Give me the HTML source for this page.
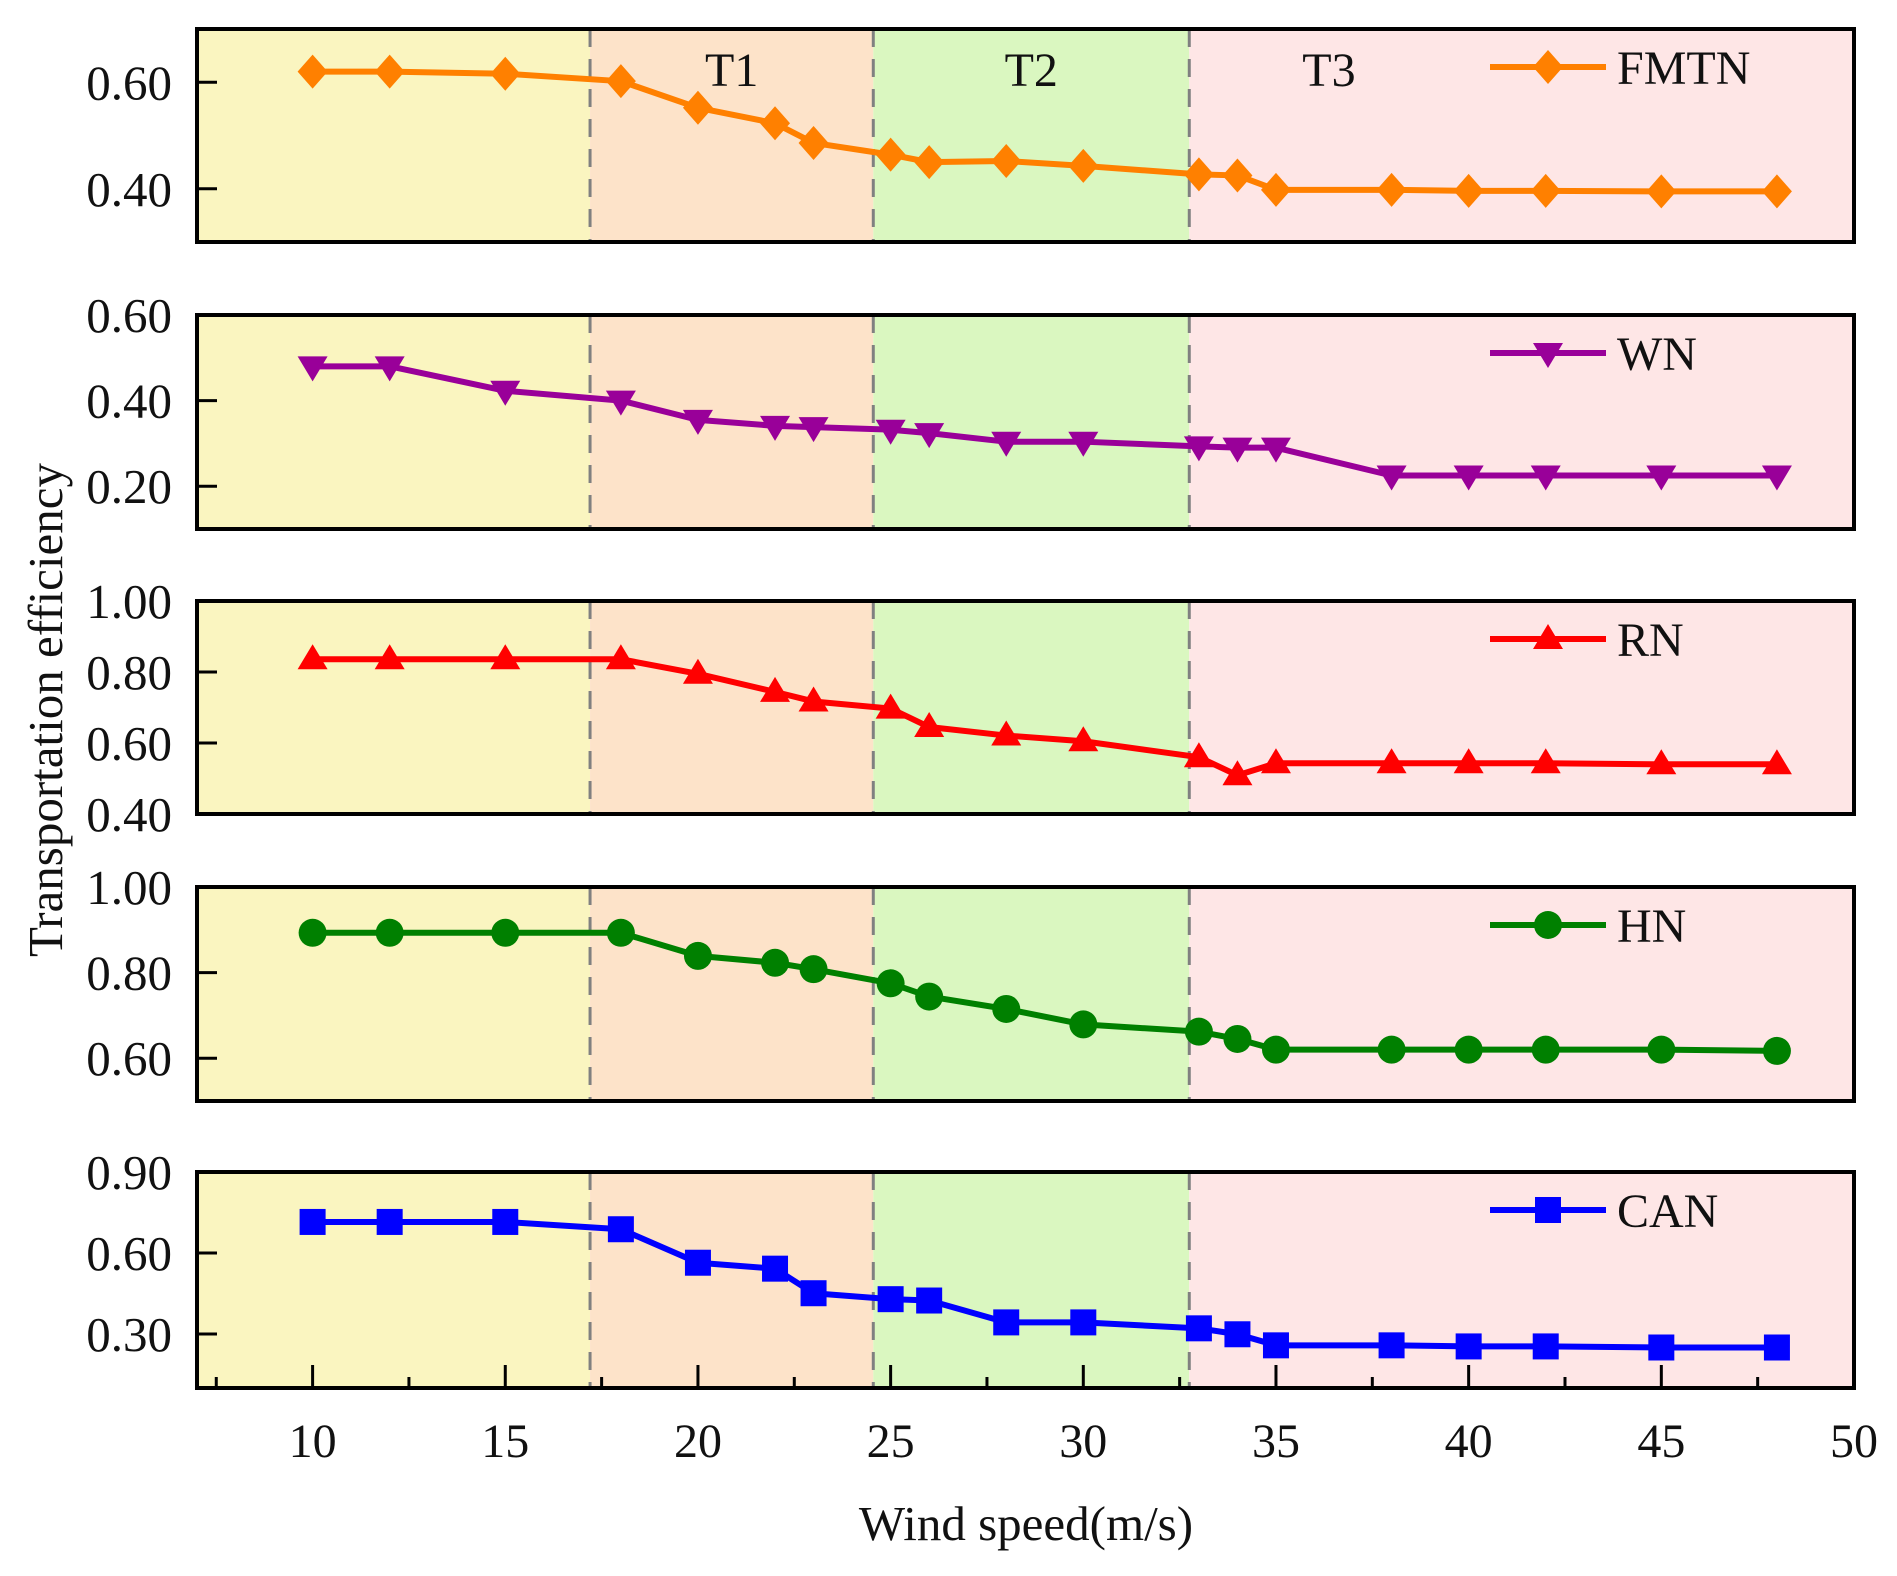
<!DOCTYPE html>
<html><head><meta charset="utf-8"><style>
body{margin:0;background:#fff}
svg text{font-family:"Liberation Serif",serif;fill:#111}
</style></head><body>
<svg id="chart" width="1897" height="1571" viewBox="0 0 1897 1571" xmlns="http://www.w3.org/2000/svg"></svg>
<script>
const windSpeeds=[10,12,15,18,20,22,23,25,26,28,30,33,34,35,38,40,42,45,48];
const fmtn=[0.62,0.62,0.616,0.602,0.552,0.523,0.486,0.464,0.45,0.452,0.443,0.427,0.425,0.398,0.398,0.396,0.396,0.395,0.395];
const wn=[0.48,0.48,0.423,0.40,0.355,0.341,0.338,0.332,0.324,0.304,0.304,0.293,0.29,0.29,0.225,0.225,0.225,0.225,0.225];
const rn=[0.836,0.836,0.836,0.836,0.795,0.744,0.717,0.697,0.645,0.621,0.605,0.56,0.509,0.543,0.543,0.543,0.543,0.54,0.54];
const hn=[0.893,0.893,0.893,0.893,0.839,0.823,0.808,0.775,0.744,0.715,0.679,0.662,0.645,0.62,0.62,0.62,0.62,0.62,0.617];
const can=[0.715,0.715,0.715,0.688,0.564,0.542,0.451,0.429,0.424,0.343,0.343,0.321,0.299,0.258,0.258,0.254,0.254,0.25,0.25];
const seriesNames=["FMTN","WN","RN","HN","CAN"];
const yTicks1=["0.40","0.60"],yTicks2=["0.20","0.40","0.60"],yTicks3=["0.40","0.60","0.80","1.00"],yTicks4=["0.60","0.80","1.00"],yTicks5=["0.30","0.60","0.90"];
const xTickLabels=[10,15,20,25,30,35,40,45,50];
const zoneBounds=[7,17.2,24.55,32.75,50];
const zoneLabels=["","T1","T2","T3"];

const svg=document.getElementById('chart');
const NS='http://www.w3.org/2000/svg';
function mk(tag,attrs,parent){const e=document.createElementNS(NS,tag);for(const k in attrs)e.setAttribute(k,attrs[k]);(parent||svg).appendChild(e);return e;}
const L=197,R=1854;
const xMin=7,xMax=50;
const X=v=>L+(v-xMin)/(xMax-xMin)*(R-L);
const panels=[
 {data:fmtn,top:29,bot:242,min:0.3,max:0.7,ticks:yTicks1,color:"#ff8000",marker:"diamond"},
 {data:wn,top:315,bot:529,min:0.1,max:0.6,ticks:yTicks2,color:"#990099",marker:"tdown"},
 {data:rn,top:601,bot:814,min:0.4,max:1.0,ticks:yTicks3,color:"#ff0000",marker:"tup"},
 {data:hn,top:887,bot:1101,min:0.5,max:1.0,ticks:yTicks4,color:"#008000",marker:"circle"},
 {data:can,top:1172,bot:1388,min:0.1,max:0.9,ticks:yTicks5,color:"#0000ff",marker:"square"}];
const zoneColors=["#faf5c0","#fde3c9","#daf7c0","#fee6e6"];
function marker(type,cx,cy,color,g){
 let e;
 if(type==="diamond")e=mk('polygon',{points:`${cx},${cy-17} ${cx+15},${cy} ${cx},${cy+17} ${cx-15},${cy}`,fill:color},g);
 else if(type==="tdown")e=mk('polygon',{points:`${cx-15},${cy-10} ${cx+15},${cy-10} ${cx},${cy+15}`,fill:color},g);
 else if(type==="tup")e=mk('polygon',{points:`${cx-15},${cy+10} ${cx+15},${cy+10} ${cx},${cy-15}`,fill:color},g);
 else if(type==="circle")e=mk('circle',{cx,cy,r:14,fill:color},g);
 else e=mk('rect',{x:cx-13,y:cy-13,width:26,height:26,fill:color},g);
 return e;
}
panels.forEach((p,pi)=>{
 const g=mk('g',{});
 
 
 const Y=v=>p.bot-(v-p.min)/(p.max-p.min)*(p.bot-p.top);
 for(let i=0;i<4;i++){
  const r=mk('rect',{x:X(zoneBounds[i]),y:p.top,width:X(zoneBounds[i+1])-X(zoneBounds[i]),height:p.bot-p.top,fill:zoneColors[i]},g);
  
  
 }
 for(let i=1;i<4;i++){
  const d=mk('line',{x1:X(zoneBounds[i]),x2:X(zoneBounds[i]),y1:p.top,y2:p.bot,stroke:"#808080","stroke-width":3,"stroke-dasharray":"18,12"},g);
  
  
 }
 p.ticks.forEach(t=>{
  const y=Y(parseFloat(t));
  mk('line',{x1:L,x2:L+20,y1:y,y2:y,stroke:"#000","stroke-width":3},g);
  const tx=mk('text',{x:172,y:y+17,"text-anchor":"end","font-size":49},g);
  tx.textContent=t;
  
  
 });
 const pts=p.data.map((v,i)=>X(windSpeeds[i])+','+Y(v)).join(' ');
 const pl=mk('polyline',{points:pts,fill:"none",stroke:p.color,"stroke-width":6,"stroke-linejoin":"round"},g);
 
 
 p.data.forEach((v,i)=>{
  const m=marker(p.marker,X(windSpeeds[i]),Y(v),p.color,g);
  
  
 });
 const ly=p.top+38;
 const lg=mk('g',{},g);
 
 
 mk('line',{x1:1490,x2:1606,y1:ly,y2:ly,stroke:p.color,"stroke-width":6},lg);
 marker(p.marker,1548,ly,p.color,lg);
 const lt=mk('text',{x:1617,y:ly+17,"font-size":48},lg);
 lt.textContent=seriesNames[pi];
 if(pi===0){
  for(let i=1;i<4;i++){
   const zt=mk('text',{x:(X(zoneBounds[i])+X(Math.min(zoneBounds[i+1],i===3?40:zoneBounds[i+1])))/2,y:86,"text-anchor":"middle","font-size":48},g);
   zt.textContent=zoneLabels[i];
   
   
  }
 }
 if(pi===4){
  for(let v=7.5;v<=50;v+=2.5){
   const major=v%5===0;
   mk('line',{x1:X(v),x2:X(v),y1:p.bot,y2:p.bot-(major?23:11),stroke:"#000","stroke-width":3},g);
  }
 }
 const b=mk('rect',{x:L,y:p.top,width:R-L,height:p.bot-p.top,fill:"none",stroke:"#000","stroke-width":4},g);
 
 
});
xTickLabels.forEach(v=>{
 const t=mk('text',{x:X(v),y:1457,"text-anchor":"middle","font-size":48});
 t.textContent=v;
 
 
});
const xt=mk('text',{x:1026,y:1540,"text-anchor":"middle","font-size":49});
xt.textContent="Wind speed(m/s)";


const yt=mk('text',{x:0,y:0,"text-anchor":"middle","font-size":49,transform:"translate(62,710) rotate(-90)"});
yt.textContent="Transportation efficiency";


</script>
</body></html>
